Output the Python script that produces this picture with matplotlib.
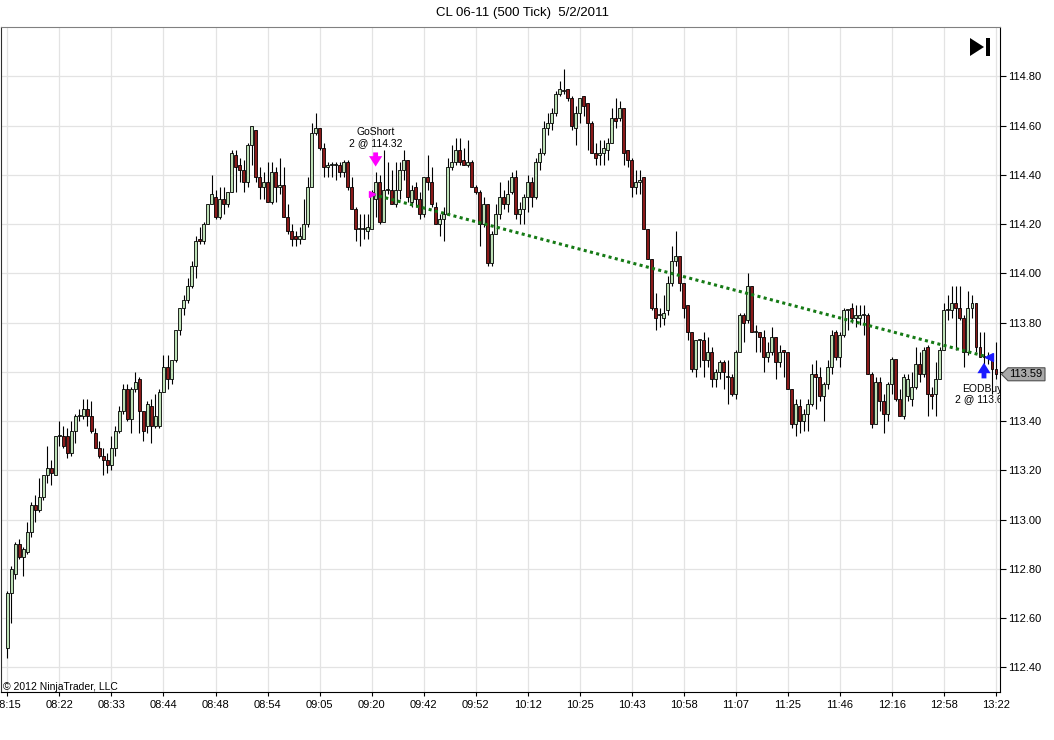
import numpy as np
import matplotlib.pyplot as plt
from matplotlib.patches import Polygon, Rectangle
from matplotlib import transforms

plt.rcParams['font.family'] = ['Liberation Sans', 'DejaVu Sans']

# 500 tick bars, CL 06-11, 2 May 2011
opens = [
    112.48, 112.70, 112.78, 112.90, 112.85, 112.87, 112.95, 113.06, 113.04, 113.09,
    113.18, 113.21, 113.18, 113.34, 113.34, 113.34, 113.27, 113.36, 113.42, 113.42,
    113.45, 113.42, 113.35, 113.29, 113.26, 113.24, 113.22, 113.29, 113.36, 113.44,
    113.53, 113.41, 113.53, 113.57, 113.44, 113.38, 113.46, 113.38, 113.38, 113.52,
    113.62, 113.57, 113.65, 113.77, 113.86, 113.89, 113.95, 114.03, 114.14, 114.13,
    114.20, 114.28, 114.31, 114.23, 114.30, 114.28, 114.33, 114.48, 114.44, 114.42,
    114.37, 114.52, 114.58, 114.39, 114.35, 114.37, 114.29, 114.41, 114.35, 114.36,
    114.23, 114.17, 114.15, 114.14, 114.14, 114.20, 114.35, 114.57, 114.59, 114.51,
    114.43, 114.44, 114.44, 114.44, 114.41, 114.45, 114.35, 114.26, 114.18, 114.18,
    114.17, 114.18, 114.30, 114.37, 114.21, 114.34, 114.34, 114.28, 114.34, 114.42,
    114.46, 114.29, 114.35, 114.30, 114.24, 114.39, 114.37, 114.27, 114.20, 114.22,
    114.24, 114.43, 114.45, 114.50, 114.46, 114.44, 114.45, 114.35, 114.33, 114.20,
    114.28, 114.04, 114.16, 114.24, 114.31, 114.28, 114.33, 114.39, 114.24, 114.26,
    114.31, 114.37, 114.31, 114.45, 114.49, 114.59, 114.61, 114.65, 114.73, 114.74,
    114.75, 114.71, 114.59, 114.65, 114.72, 114.69, 114.61, 114.49, 114.48, 114.49,
    114.50, 114.53, 114.63, 114.63, 114.67, 114.50, 114.46, 114.35, 114.37, 114.39,
    114.18, 114.06, 113.86, 113.83, 113.82, 113.85, 113.96, 114.05, 114.07, 113.96,
    113.87, 113.76, 113.61, 113.73, 113.73, 113.65, 113.68, 113.57, 113.60, 113.64,
    113.58, 113.58, 113.51, 113.68, 113.83, 113.81, 113.95, 113.76, 113.76, 113.74,
    113.66, 113.68, 113.74, 113.64, 113.69, 113.68, 113.53, 113.39, 113.46, 113.40,
    113.43, 113.47, 113.59, 113.58, 113.50, 113.55, 113.62, 113.76, 113.66, 113.75,
    113.85, 113.86, 113.82, 113.82, 113.83, 113.83, 113.59, 113.39, 113.56, 113.48,
    113.43, 113.55, 113.65, 113.49, 113.42, 113.50, 113.49, 113.54, 113.63, 113.59,
    113.70, 113.51, 113.51, 113.57, 113.69, 113.85, 113.85, 113.88, 113.86, 113.82,
    113.68, 113.86, 113.88, 113.70, 113.66, 113.66, 113.66, 113.61,
]
highs = [
    112.71, 112.81, 112.91, 112.92, 112.89, 112.99, 113.07, 113.10, 113.17, 113.18,
    113.30, 113.24, 113.34, 113.40, 113.38, 113.37, 113.40, 113.43, 113.45, 113.49,
    113.49, 113.48, 113.37, 113.32, 113.29, 113.27, 113.34, 113.38, 113.46, 113.55,
    113.55, 113.54, 113.60, 113.58, 113.44, 113.48, 113.49, 113.51, 113.53, 113.67,
    113.67, 113.65, 113.77, 113.86, 113.91, 113.98, 114.05, 114.15, 114.19, 114.21,
    114.28, 114.40, 114.34, 114.35, 114.35, 114.33, 114.50, 114.50, 114.47, 114.46,
    114.53, 114.60, 114.58, 114.43, 114.41, 114.45, 114.45, 114.43, 114.47, 114.43,
    114.28, 114.20, 114.17, 114.19, 114.30, 114.39, 114.61, 114.65, 114.59, 114.53,
    114.45, 114.45, 114.45, 114.45, 114.46, 114.46, 114.39, 114.27, 114.24, 114.24,
    114.24, 114.34, 114.41, 114.40, 114.50, 114.45, 114.42, 114.45, 114.45, 114.50,
    114.46, 114.36, 114.37, 114.33, 114.39, 114.48, 114.43, 114.29, 114.24, 114.27,
    114.47, 114.52, 114.55, 114.55, 114.51, 114.54, 114.46, 114.36, 114.34, 114.31,
    114.28, 114.17, 114.28, 114.37, 114.34, 114.38, 114.41, 114.42, 114.29, 114.32,
    114.40, 114.39, 114.47, 114.51, 114.62, 114.65, 114.67, 114.74, 114.78, 114.83,
    114.75, 114.72, 114.68, 114.71, 114.72, 114.69, 114.62, 114.53, 114.54, 114.54,
    114.55, 114.67, 114.71, 114.70, 114.67, 114.50, 114.47, 114.42, 114.42, 114.39,
    114.18, 114.06, 113.92, 113.86, 113.91, 113.99, 114.11, 114.17, 114.07, 113.96,
    113.87, 113.76, 113.73, 113.73, 113.76, 113.74, 113.70, 113.61, 113.65, 113.65,
    113.65, 113.59, 113.69, 113.84, 113.84, 114.00, 113.95, 113.79, 113.76, 113.77,
    113.72, 113.78, 113.74, 113.71, 113.69, 113.68, 113.53, 113.49, 113.49, 113.45,
    113.49, 113.63, 113.65, 113.62, 113.56, 113.65, 113.77, 113.77, 113.76, 113.86,
    113.85, 113.88, 113.87, 113.87, 113.87, 113.84, 113.60, 113.58, 113.58, 113.51,
    113.56, 113.66, 113.65, 113.53, 113.59, 113.59, 113.60, 113.70, 113.68, 113.70,
    113.71, 113.54, 113.64, 113.70, 113.88, 113.91, 113.95, 113.95, 113.95, 113.83,
    113.93, 113.91, 113.88, 113.76, 113.76, 113.68, 113.66, 113.72,
]
lows = [
    112.44, 112.58, 112.76, 112.84, 112.77, 112.86, 112.93, 112.99, 113.03, 113.08,
    113.15, 113.14, 113.18, 113.30, 113.29, 113.25, 113.26, 113.31, 113.40, 113.41,
    113.38, 113.35, 113.29, 113.25, 113.18, 113.19, 113.20, 113.26, 113.35, 113.43,
    113.40, 113.35, 113.52, 113.35, 113.32, 113.35, 113.31, 113.37, 113.37, 113.52,
    113.53, 113.55, 113.64, 113.75, 113.83, 113.88, 113.94, 113.98, 114.12, 114.12,
    114.20, 114.28, 114.22, 114.22, 114.24, 114.27, 114.33, 114.33, 114.37, 114.33,
    114.35, 114.44, 114.37, 114.30, 114.30, 114.29, 114.28, 114.29, 114.32, 114.23,
    114.16, 114.11, 114.11, 114.12, 114.14, 114.19, 114.35, 114.56, 114.50, 114.39,
    114.39, 114.39, 114.38, 114.39, 114.39, 114.34, 114.26, 114.13, 114.11, 114.14,
    114.14, 114.18, 114.23, 114.20, 114.21, 114.32, 114.28, 114.27, 114.30, 114.38,
    114.29, 114.27, 114.27, 114.22, 114.23, 114.34, 114.27, 114.20, 114.15, 114.13,
    114.24, 114.42, 114.44, 114.44, 114.44, 114.43, 114.35, 114.32, 114.11, 114.19,
    114.03, 114.03, 114.16, 114.22, 114.26, 114.25, 114.32, 114.22, 114.20, 114.20,
    114.25, 114.27, 114.30, 114.42, 114.48, 114.56, 114.58, 114.64, 114.72, 114.73,
    114.70, 114.58, 114.52, 114.61, 114.64, 114.50, 114.49, 114.44, 114.44, 114.44,
    114.46, 114.53, 114.59, 114.62, 114.44, 114.43, 114.31, 114.32, 114.32, 114.18,
    114.06, 113.85, 113.77, 113.78, 113.79, 113.83, 113.95, 114.03, 113.93, 113.82,
    113.73, 113.60, 113.58, 113.62, 113.58, 113.62, 113.54, 113.54, 113.57, 113.53,
    113.47, 113.50, 113.49, 113.68, 113.72, 113.80, 113.76, 113.68, 113.68, 113.60,
    113.64, 113.67, 113.57, 113.62, 113.58, 113.53, 113.37, 113.34, 113.35, 113.36,
    113.36, 113.46, 113.45, 113.48, 113.40, 113.53, 113.59, 113.65, 113.62, 113.74,
    113.77, 113.80, 113.78, 113.79, 113.75, 113.59, 113.37, 113.39, 113.44, 113.35,
    113.40, 113.51, 113.48, 113.42, 113.41, 113.48, 113.46, 113.53, 113.56, 113.58,
    113.42, 113.45, 113.42, 113.57, 113.69, 113.81, 113.82, 113.69, 113.81, 113.62,
    113.67, 113.82, 113.68, 113.66, 113.63, 113.63, 113.51, 113.57,
]
closes = [
    112.70, 112.80, 112.90, 112.85, 112.88, 112.95, 113.06, 113.04, 113.09, 113.18,
    113.21, 113.19, 113.34, 113.34, 113.30, 113.27, 113.36, 113.42, 113.42, 113.45,
    113.42, 113.36, 113.29, 113.26, 113.24, 113.22, 113.29, 113.36, 113.44, 113.53,
    113.41, 113.53, 113.56, 113.44, 113.36, 113.47, 113.38, 113.42, 113.52, 113.62,
    113.57, 113.65, 113.77, 113.86, 113.89, 113.95, 114.03, 114.13, 114.13, 114.20,
    114.28, 114.32, 114.23, 114.30, 114.28, 114.33, 114.49, 114.43, 114.42, 114.37,
    114.52, 114.60, 114.39, 114.35, 114.37, 114.29, 114.41, 114.35, 114.36, 114.23,
    114.17, 114.14, 114.14, 114.15, 114.20, 114.35, 114.57, 114.59, 114.51, 114.43,
    114.44, 114.44, 114.44, 114.41, 114.45, 114.35, 114.26, 114.18, 114.18, 114.18,
    114.19, 114.33, 114.37, 114.21, 114.34, 114.34, 114.28, 114.34, 114.42, 114.46,
    114.31, 114.34, 114.30, 114.24, 114.39, 114.37, 114.28, 114.20, 114.22, 114.24,
    114.43, 114.45, 114.50, 114.45, 114.44, 114.45, 114.35, 114.33, 114.20, 114.28,
    114.04, 114.16, 114.24, 114.31, 114.28, 114.32, 114.39, 114.24, 114.26, 114.31,
    114.37, 114.31, 114.45, 114.49, 114.59, 114.61, 114.65, 114.73, 114.75, 114.74,
    114.71, 114.60, 114.65, 114.71, 114.68, 114.61, 114.49, 114.47, 114.49, 114.51,
    114.53, 114.63, 114.62, 114.67, 114.49, 114.46, 114.35, 114.37, 114.38, 114.18,
    114.06, 113.86, 113.82, 113.83, 113.84, 113.96, 114.05, 114.07, 113.96, 113.86,
    113.76, 113.61, 113.73, 113.73, 113.65, 113.68, 113.57, 113.60, 113.64, 113.60,
    113.58, 113.51, 113.68, 113.83, 113.80, 113.95, 113.76, 113.76, 113.74, 113.66,
    113.68, 113.74, 113.64, 113.68, 113.68, 113.53, 113.39, 113.47, 113.40, 113.43,
    113.47, 113.59, 113.58, 113.50, 113.55, 113.62, 113.75, 113.66, 113.75, 113.85,
    113.85, 113.82, 113.83, 113.83, 113.83, 113.59, 113.39, 113.56, 113.48, 113.43,
    113.55, 113.65, 113.49, 113.42, 113.58, 113.57, 113.54, 113.63, 113.59, 113.69,
    113.51, 113.50, 113.57, 113.69, 113.85, 113.85, 113.88, 113.86, 113.82, 113.68,
    113.86, 113.88, 113.70, 113.66, 113.66, 113.66, 113.61, 113.59,
]
time_labels = ['08:15', '08:22', '08:33', '08:44', '08:48', '08:54', '09:05', '09:20',
               '09:42', '09:52', '10:12', '10:25', '10:43', '10:58', '11:07', '11:25',
               '11:46', '12:16', '12:58', '13:22']
price_ticks = [112.40, 112.60, 112.80, 113.00, 113.20, 113.40, 113.60, 113.80,
               114.00, 114.20, 114.40, 114.60, 114.80]

# trade
entry_bar, entry_price = 92, 114.32
exit_bar, exit_price = 245, 113.66

o = np.array(opens); h = np.array(highs); l = np.array(lows); c = np.array(closes)
x = np.arange(len(o))

fig = plt.figure(figsize=(10.54, 7.40), dpi=100)
W, H = 1054, 740
ax = fig.add_axes([1 / W, 48 / H, 999 / W, 665 / H])

# grid
tick_pos = np.arange(len(time_labels)) * 13
ax.set_xticks(tick_pos)
ax.set_xticklabels(time_labels)
ax.set_yticks(price_ticks)
ax.set_yticklabels(['%.2f' % p for p in price_ticks])
ax.grid(True, color='#e3e3e3', lw=0.9)
ax.set_axisbelow(True)

# candles
up = c >= o
ax.vlines(x, l, h, color='black', lw=0.8, zorder=2)
body_lo = np.minimum(o, c)
body_h = np.maximum(np.abs(c - o), 0.004)
ax.bar(x, body_h, bottom=body_lo, width=0.74,
       color=np.where(up, '#bde0b6', '#8a1a1a'), edgecolor='black', lw=0.6, zorder=3)

# trade line
ax.plot([entry_bar - 0.7, exit_bar], [entry_price, exit_price], color='#157a15',
        ls=(0, (1, 1.1)), lw=2.2, zorder=4)
ax.plot(entry_bar - 0.9, entry_price, marker='>', color='magenta', ms=5, zorder=5)
ax.plot(exit_bar + 0.3, exit_price, marker='<', color='#1a1aff', ms=6, zorder=5)

arrow_style = 'simple,head_width=0.95,head_length=0.75,tail_width=0.35'
ax.annotate('', xy=(entry_bar, h[entry_bar] + 0.012), xytext=(entry_bar, h[entry_bar] + 0.092),
            arrowprops=dict(arrowstyle=arrow_style, color='magenta', lw=0), zorder=5)
ax.text(entry_bar, h[entry_bar] + 0.100, 'GoShort\n2 @ %.2f' % entry_price,
        ha='center', va='bottom', fontsize=7.5, linespacing=1.05)

ax.annotate('', xy=(exit_bar - 1, exit_price - 0.012), xytext=(exit_bar - 1, exit_price - 0.098),
            arrowprops=dict(arrowstyle=arrow_style, color='#1a1aff', lw=0), zorder=5)
ax.text(exit_bar - 1.5, exit_price - 0.108, 'EODBuy\n2 @ %.2f' % exit_price,
        ha='center', va='top', fontsize=7.5, linespacing=1.05, clip_on=True)

ax.set_xlim(-1.6, 248)
ax.set_ylim(112.30, 115.00)

ax.yaxis.tick_right()
ax.tick_params(axis='y', direction='out', length=4, width=0.8, labelsize=8, pad=2)
ax.tick_params(axis='x', direction='out', length=3, width=0.8, labelsize=8, pad=3)
ax.spines['left'].set_color('#303030')
ax.spines['top'].set_color('#808080')
ax.spines['top'].set_linewidth(0.8)

# last price tag
p = c[-1]
tr = transforms.blended_transform_factory(ax.transAxes, ax.transData)
dx = 1 / 999
hh = 6.5 / 246.25
tag = Polygon([(1 + 1.5 * dx, p), (1 + 8 * dx, p + hh), (1 + 45 * dx, p + hh),
               (1 + 45 * dx, p - hh), (1 + 8 * dx, p - hh)], closed=True,
              transform=tr, fc='#a9a9a9', ec='#505050', lw=0.8, clip_on=False, zorder=6)
ax.add_patch(tag)
ax.text(1 + 26 * dx, p, '%.2f' % p, transform=tr, ha='center', va='center', fontsize=8,
        clip_on=False, zorder=7)

# scroll-to-end icon
ax.add_patch(Polygon([(969 / 999, 654 / 665), (969 / 999, 636 / 665), (983 / 999, 645 / 665)],
                     closed=True, transform=ax.transAxes, fc='black', ec='none', zorder=6))
ax.add_patch(Rectangle((985 / 999, 636 / 665), 4 / 999, 18 / 665, transform=ax.transAxes,
                       fc='black', ec='none', zorder=6))

ax.text(2 / 999, 0 / 665, '\u00a9 2012 NinjaTrader, LLC', transform=ax.transAxes,
        fontsize=7.5, ha='left', va='bottom')

fig.text(522 / W, 1 - 13 / H, 'CL 06-11 (500 Tick)  5/2/2011', ha='center', va='center',
         fontsize=9.5)

fig.savefig('out.png', dpi=100)
